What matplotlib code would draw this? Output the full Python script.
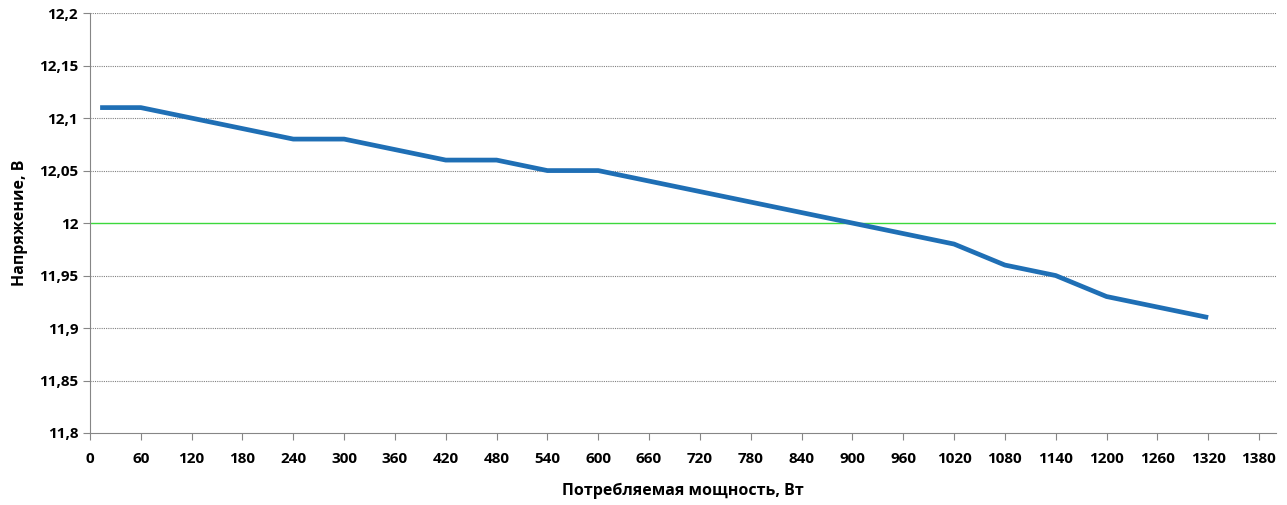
import matplotlib
matplotlib.use("Agg")
import matplotlib.pyplot as plt
from matplotlib.ticker import FuncFormatter

# Data
power_w = [12, 60, 120, 180, 240, 300, 360, 420, 480, 540, 600, 660, 720,
           780, 840, 900, 960, 1020, 1080, 1140, 1200, 1260, 1320]
voltage_v = [12.11, 12.11, 12.10, 12.09, 12.08, 12.08, 12.07, 12.06, 12.06,
             12.05, 12.05, 12.04, 12.03, 12.02, 12.01, 12.00, 11.99, 11.98,
             11.96, 11.95, 11.93, 11.92, 11.91]
x_ticks = list(range(0, 1381, 60))
y_ticks = [11.8, 11.85, 11.9, 11.95, 12.0, 12.05, 12.1, 12.15, 12.2]

plt.rcParams['font.family'] = ['Open Sans', 'DejaVu Sans']

fig = plt.figure(figsize=(12.87, 5.05), dpi=100)
ax = fig.add_axes([0.0699, 0.1426, 0.9215, 0.8314])

ax.plot(power_w, voltage_v, color='#1f6fb5', linewidth=3.4,
        solid_capstyle='butt', zorder=3)

ax.set_xlim(0, 1400)
ax.set_ylim(11.8, 12.2)
ax.set_xticks(x_ticks)
ax.set_yticks(y_ticks)

def comma_fmt(v, pos):
    s = f"{v:.2f}".rstrip('0').rstrip('.')
    return s.replace('.', ',')

ax.yaxis.set_major_formatter(FuncFormatter(comma_fmt))

# gridlines: gray dotted, the 12 V line green
for y in y_ticks[1:]:
    if abs(y - 12.0) < 1e-9:
        ax.axhline(y, color='#3cd83c', linestyle='-', linewidth=1.0, zorder=2)
    else:
        ax.axhline(y, color='#808080', linestyle=(0, (1, 1)), linewidth=0.8,
                   zorder=1)

for side in ('top', 'right'):
    ax.spines[side].set_visible(False)
ax.spines['left'].set_color('#868686')
ax.spines['bottom'].set_color('#868686')

ax.tick_params(axis='both', colors='#868686', labelcolor='black',
               labelsize=11, length=5, width=0.8)
ax.tick_params(axis='x', pad=9)
for lbl in ax.get_xticklabels() + ax.get_yticklabels():
    lbl.set_fontweight('bold')

ax.set_xlabel("Потребляемая мощность, Вт", fontsize=11.5, fontweight='bold',
              va='center')
ax.xaxis.set_label_coords(0.5, -0.138)
ax.set_ylabel("Напряжение, В", fontsize=11.5, fontweight='bold')
ax.yaxis.set_label_coords(-0.052, 0.5)

fig.savefig("out.png", dpi=100)
